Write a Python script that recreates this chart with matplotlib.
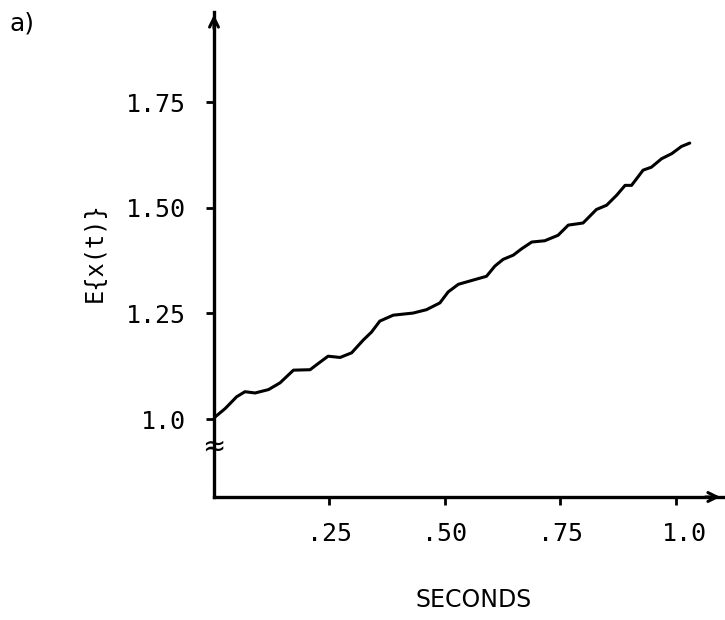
import matplotlib
matplotlib.use("Agg")
import matplotlib.pyplot as plt
from matplotlib.transforms import ScaledTranslation

# curve
t = [0.002, 0.024, 0.049, 0.067, 0.089, 0.118, 0.143, 0.172, 0.208, 0.226,
     0.247, 0.273, 0.298, 0.323, 0.341, 0.359, 0.388, 0.431, 0.460, 0.489,
     0.507, 0.529, 0.561, 0.590, 0.608, 0.626, 0.648, 0.666, 0.688, 0.716,
     0.745, 0.767, 0.799, 0.828, 0.850, 0.872, 0.890, 0.904, 0.929, 0.947,
     0.969, 0.991, 1.012, 1.030]
ex = [1.005, 1.025, 1.053, 1.065, 1.062, 1.070, 1.086, 1.116, 1.117, 1.132,
      1.149, 1.146, 1.157, 1.187, 1.206, 1.232, 1.246, 1.251, 1.259, 1.275,
      1.301, 1.319, 1.329, 1.338, 1.362, 1.378, 1.388, 1.403, 1.419, 1.422,
      1.435, 1.459, 1.464, 1.496, 1.506, 1.530, 1.553, 1.553, 1.589, 1.596,
      1.616, 1.628, 1.645, 1.653]

xticks = [0.25, 0.50, 0.75, 1.0]
xtick_labels = [".25", ".50", ".75", "1.0"]
yticks = [1.0, 1.25, 1.50, 1.75]
ytick_labels = ["1.0", "1.25", "1.50", "1.75"]

plt.rcParams["font.family"] = ["DejaVu Sans Mono", "DejaVu Sans"]

fig = plt.figure(figsize=(7.25, 6.2), dpi=100)
ax = fig.add_axes([214 / 725, 123 / 620, 509 / 725, 485 / 620])

ax.plot(t, ex, color="black", linewidth=2.2, solid_joinstyle="round",
        solid_capstyle="round")
ax.set_xlim(0, 1.102)
ax.set_ylim(0.816, 1.963)

for s in ["top", "right"]:
    ax.spines[s].set_visible(False)
for s in ["left", "bottom"]:
    ax.spines[s].set_linewidth(2.4)

# open arrowheads on the axes
ax.annotate("", xy=(0, 1.0), xytext=(0, 0.96), xycoords="axes fraction",
            arrowprops=dict(arrowstyle="->", color="black", lw=2.2,
                            mutation_scale=16))
ax.annotate("", xy=(1.0, 0), xytext=(0.96, 0), xycoords="axes fraction",
            arrowprops=dict(arrowstyle="->", color="black", lw=2.2,
                            mutation_scale=16))

# axis break mark below 1.0
ax.text(0, 0.934, "≈", transform=ax.get_yaxis_transform(), ha="center",
        va="center", fontsize=20, family="DejaVu Sans", clip_on=False)

ax.set_xticks(xticks)
ax.set_xticklabels(xtick_labels)
ax.set_yticks(yticks)
ax.set_yticklabels(ytick_labels)
ax.tick_params(axis="both", direction="out", length=6, width=2.0,
               labelsize=18)
ax.tick_params(axis="x", pad=12)
ax.tick_params(axis="y", pad=14)
last = ax.get_xticklabels()[-1]
last.set_transform(last.get_transform() + ScaledTranslation(0.09, 0, fig.dpi_scale_trans))

fig.text(22 / 725, 1 - 24 / 620, "a)", ha="center", va="center",
         fontsize=18, family="DejaVu Sans")
fig.text(95 / 725, 1 - 252 / 620, "E{x(t)}", rotation=90, ha="center",
         va="center", fontsize=17)
fig.text(474 / 725, 1 - 600 / 620, "SECONDS", ha="center", va="center",
         fontsize=17, family="DejaVu Sans")

fig.savefig("out.png", dpi=100)
